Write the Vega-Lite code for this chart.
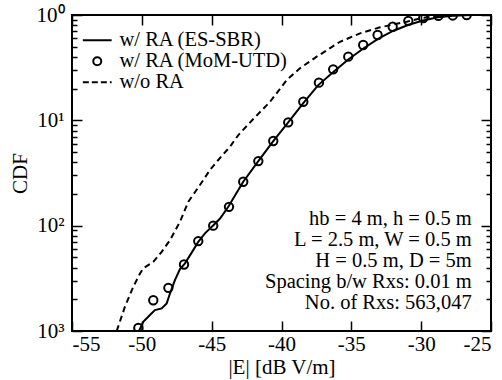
{
  "$schema": "https://vega.github.io/schema/vega-lite/v6.json",
  "width": 419,
  "height": 316,
  "autosize": {"type": "none"},
  "padding": {"left": 72, "top": 15, "right": 11, "bottom": 49},
  "config": {
    "font": "Liberation Serif",
    "view": {"stroke": "black", "strokeWidth": 2},
    "axis": {
      "domain": false,
      "grid": false,
      "tickColor": "black",
      "tickWidth": 1.5,
      "labelFont": "Liberation Serif",
      "labelFontSize": 21,
      "labelColor": "black",
      "titleFont": "Liberation Serif",
      "titleFontSize": 21,
      "titleFontWeight": "normal",
      "titleColor": "black"
    },
    "legend": {
      "orient": "top-left",
      "offset": 15,
      "padding": 0,
      "labelFont": "Liberation Serif",
      "labelFontSize": 20.5,
      "labelColor": "black",
      "labelLimit": 0,
      "labelOffset": 12,
      "symbolStrokeColor": "black",
      "symbolFillColor": "transparent",
      "symbolStrokeWidth": 2,
      "symbolSize": 64,
      "rowPadding": -3.5
    }
  },
  "datasets": {
    "curves": [
      {"series": "w/ RA (ES-SBR)", "e": -50.2, "cdf": 0.001},
      {"series": "w/ RA (ES-SBR)", "e": -49.9, "cdf": 0.00122},
      {"series": "w/ RA (ES-SBR)", "e": -49.42, "cdf": 0.00142},
      {"series": "w/ RA (ES-SBR)", "e": -49.06, "cdf": 0.00158},
      {"series": "w/ RA (ES-SBR)", "e": -48.58, "cdf": 0.00164},
      {"series": "w/ RA (ES-SBR)", "e": -48.22, "cdf": 0.00183},
      {"series": "w/ RA (ES-SBR)", "e": -47.98, "cdf": 0.00228},
      {"series": "w/ RA (ES-SBR)", "e": -47.63, "cdf": 0.00304},
      {"series": "w/ RA (ES-SBR)", "e": -47.27, "cdf": 0.00387},
      {"series": "w/ RA (ES-SBR)", "e": -46.91, "cdf": 0.00439},
      {"series": "w/ RA (ES-SBR)", "e": -46.32, "cdf": 0.00586},
      {"series": "w/ RA (ES-SBR)", "e": -45.96, "cdf": 0.00703},
      {"series": "w/ RA (ES-SBR)", "e": -45.48, "cdf": 0.00845},
      {"series": "w/ RA (ES-SBR)", "e": -44.88, "cdf": 0.0101},
      {"series": "w/ RA (ES-SBR)", "e": -44.4, "cdf": 0.0117},
      {"series": "w/ RA (ES-SBR)", "e": -43.81, "cdf": 0.0151},
      {"series": "w/ RA (ES-SBR)", "e": -42.74, "cdf": 0.0261},
      {"series": "w/ RA (ES-SBR)", "e": -41.66, "cdf": 0.041},
      {"series": "w/ RA (ES-SBR)", "e": -40.59, "cdf": 0.0636},
      {"series": "w/ RA (ES-SBR)", "e": -39.52, "cdf": 0.0957},
      {"series": "w/ RA (ES-SBR)", "e": -38.44, "cdf": 0.146},
      {"series": "w/ RA (ES-SBR)", "e": -37.37, "cdf": 0.216},
      {"series": "w/ RA (ES-SBR)", "e": -36.29, "cdf": 0.287},
      {"series": "w/ RA (ES-SBR)", "e": -35.22, "cdf": 0.378},
      {"series": "w/ RA (ES-SBR)", "e": -34.14, "cdf": 0.481},
      {"series": "w/ RA (ES-SBR)", "e": -33.09, "cdf": 0.592},
      {"series": "w/ RA (ES-SBR)", "e": -32.02, "cdf": 0.705},
      {"series": "w/ RA (ES-SBR)", "e": -30.94, "cdf": 0.804},
      {"series": "w/ RA (ES-SBR)", "e": -29.87, "cdf": 0.887},
      {"series": "w/ RA (ES-SBR)", "e": -28.79, "cdf": 0.951},
      {"series": "w/ RA (ES-SBR)", "e": -27.72, "cdf": 0.985},
      {"series": "w/ RA (ES-SBR)", "e": -26.36, "cdf": 1.0},
      {"series": "w/ RA (MoM-UTD)", "e": -50.25, "cdf": 0.00107},
      {"series": "w/ RA (MoM-UTD)", "e": -49.18, "cdf": 0.00196},
      {"series": "w/ RA (MoM-UTD)", "e": -48.1, "cdf": 0.00257},
      {"series": "w/ RA (MoM-UTD)", "e": -46.98, "cdf": 0.00428},
      {"series": "w/ RA (MoM-UTD)", "e": -45.96, "cdf": 0.00714},
      {"series": "w/ RA (MoM-UTD)", "e": -44.89, "cdf": 0.01},
      {"series": "w/ RA (MoM-UTD)", "e": -43.76, "cdf": 0.0151},
      {"series": "w/ RA (MoM-UTD)", "e": -42.74, "cdf": 0.0261},
      {"series": "w/ RA (MoM-UTD)", "e": -41.66, "cdf": 0.041},
      {"series": "w/ RA (MoM-UTD)", "e": -40.59, "cdf": 0.0636},
      {"series": "w/ RA (MoM-UTD)", "e": -39.52, "cdf": 0.0957},
      {"series": "w/ RA (MoM-UTD)", "e": -38.44, "cdf": 0.15},
      {"series": "w/ RA (MoM-UTD)", "e": -37.32, "cdf": 0.228},
      {"series": "w/ RA (MoM-UTD)", "e": -36.3, "cdf": 0.305},
      {"series": "w/ RA (MoM-UTD)", "e": -35.22, "cdf": 0.402},
      {"series": "w/ RA (MoM-UTD)", "e": -34.15, "cdf": 0.519},
      {"series": "w/ RA (MoM-UTD)", "e": -33.12, "cdf": 0.646},
      {"series": "w/ RA (MoM-UTD)", "e": -32.04, "cdf": 0.774},
      {"series": "w/ RA (MoM-UTD)", "e": -30.92, "cdf": 0.88},
      {"series": "w/ RA (MoM-UTD)", "e": -29.85, "cdf": 0.935},
      {"series": "w/ RA (MoM-UTD)", "e": -28.77, "cdf": 0.98},
      {"series": "w/ RA (MoM-UTD)", "e": -27.74, "cdf": 0.99},
      {"series": "w/ RA (MoM-UTD)", "e": -26.74, "cdf": 1.0},
      {"series": "w/o RA", "e": -51.8, "cdf": 0.001},
      {"series": "w/o RA", "e": -51.21, "cdf": 0.0017},
      {"series": "w/o RA", "e": -50.61, "cdf": 0.00263},
      {"series": "w/o RA", "e": -50.13, "cdf": 0.00352},
      {"series": "w/o RA", "e": -49.9, "cdf": 0.00393},
      {"series": "w/o RA", "e": -49.18, "cdf": 0.00454},
      {"series": "w/o RA", "e": -48.58, "cdf": 0.00565},
      {"series": "w/o RA", "e": -47.98, "cdf": 0.0073},
      {"series": "w/o RA", "e": -47.27, "cdf": 0.0109},
      {"series": "w/o RA", "e": -46.67, "cdf": 0.0169},
      {"series": "w/o RA", "e": -45.84, "cdf": 0.0243},
      {"series": "w/o RA", "e": -45.12, "cdf": 0.0338},
      {"series": "w/o RA", "e": -44.53, "cdf": 0.042},
      {"series": "w/o RA", "e": -43.69, "cdf": 0.0561},
      {"series": "w/o RA", "e": -43.09, "cdf": 0.0725},
      {"series": "w/o RA", "e": -42.02, "cdf": 0.103},
      {"series": "w/o RA", "e": -40.82, "cdf": 0.15},
      {"series": "w/o RA", "e": -39.63, "cdf": 0.241},
      {"series": "w/o RA", "e": -38.68, "cdf": 0.312},
      {"series": "w/o RA", "e": -37.48, "cdf": 0.402},
      {"series": "w/o RA", "e": -35.81, "cdf": 0.557},
      {"series": "w/o RA", "e": -34.38, "cdf": 0.67},
      {"series": "w/o RA", "e": -32.95, "cdf": 0.764},
      {"series": "w/o RA", "e": -31.04, "cdf": 0.863},
      {"series": "w/o RA", "e": -30.08, "cdf": 0.93},
      {"series": "w/o RA", "e": -28.89, "cdf": 0.978},
      {"series": "w/o RA", "e": -27.46, "cdf": 1.0}
    ],
    "note": [{"label": "parameters"}]
  },
  "layer": [
    {
      "data": {"name": "curves"},
      "transform": [{"filter": "datum.series == 'w/ RA (ES-SBR)'"}],
      "mark": {"type": "line", "color": "black", "strokeWidth": 2, "clip": true},
      "encoding": {
        "x": {
          "field": "e", "type": "quantitative",
          "scale": {"domain": [-55, -25], "nice": false, "zero": false},
          "axis": {
            "orient": "bottom",
            "values": [-55, -50, -45, -40, -35, -30, -25],
            "tickSize": -10,
            "labelPadding": 12,
            "labelExpr": "'' + datum.value",
            "title": "|E| [dB V/m]",
            "titlePadding": 2
          }
        },
        "y": {
          "field": "cdf", "type": "quantitative",
          "scale": {"type": "log", "domain": [0.001, 1], "nice": false},
          "axis": {
            "orient": "left",
            "values": [0.001, 0.002, 0.003, 0.004, 0.005, 0.006, 0.007, 0.008, 0.009, 0.01, 0.02, 0.03, 0.04, 0.05, 0.06, 0.07, 0.08, 0.09, 0.1, 0.2, 0.3, 0.4, 0.5, 0.6, 0.7, 0.8, 0.9, 1],
            "tickSize": {"condition": {"test": "indexof([1, 0.1, 0.01, 0.001], datum.value) >= 0", "value": -10}, "value": -5},
            "labelPadding": 18,
            "labelExpr": "datum.value == 1 ? '10⁰' : datum.value == 0.1 ? '10¹' : datum.value == 0.01 ? '10²' : datum.value == 0.001 ? '10³' : ''",
            "title": "CDF",
            "titlePadding": 6
          }
        }
      }
    },
    {
      "data": {"name": "curves"},
      "transform": [{"filter": "datum.series == 'w/o RA'"}],
      "mark": {"type": "line", "color": "black", "strokeWidth": 2, "strokeDash": [6, 4], "clip": true},
      "encoding": {
        "x": {
          "field": "e", "type": "quantitative",
          "scale": {"domain": [-55, -25], "nice": false, "zero": false},
          "axis": {
            "orient": "top",
            "values": [-55, -50, -45, -40, -35, -30, -25],
            "tickSize": -10,
            "labels": false,
            "title": null
          }
        },
        "y": {
          "field": "cdf", "type": "quantitative",
          "scale": {"type": "log", "domain": [0.001, 1], "nice": false},
          "axis": {
            "orient": "right",
            "values": [0.001, 0.002, 0.003, 0.004, 0.005, 0.006, 0.007, 0.008, 0.009, 0.01, 0.02, 0.03, 0.04, 0.05, 0.06, 0.07, 0.08, 0.09, 0.1, 0.2, 0.3, 0.4, 0.5, 0.6, 0.7, 0.8, 0.9, 1],
            "tickSize": {"condition": {"test": "indexof([1, 0.1, 0.01, 0.001], datum.value) >= 0", "value": -10}, "value": -5},
            "labels": false,
            "title": null
          }
        }
      }
    },
    {
      "data": {"name": "curves"},
      "transform": [{"filter": "datum.series == 'w/ RA (MoM-UTD)'"}],
      "mark": {"type": "point", "filled": false, "size": 70, "strokeWidth": 2, "color": "black", "opacity": 1, "clip": true},
      "encoding": {
        "x": {"field": "e", "type": "quantitative", "scale": {"domain": [-55, -25], "nice": false, "zero": false}, "axis": null},
        "y": {"field": "cdf", "type": "quantitative", "scale": {"type": "log", "domain": [0.001, 1], "nice": false}, "axis": null},
        "shape": {
          "field": "series", "type": "nominal",
          "scale": {
            "domain": ["w/ RA (ES-SBR)", "w/ RA (MoM-UTD)", "w/o RA"],
            "range": ["M-3.6,0H3.6", "circle", "M-3.6,0H-2.1M-1.35,0H0.15M0.9,0H2.4M3.15,0H3.6"]
          },
          "legend": {"title": null}
        }
      }
    },
    {
      "data": {"name": "note"},
      "mark": {
        "type": "text",
        "align": "right",
        "baseline": "alphabetic",
        "font": "Liberation Serif",
        "fontSize": 20.5,
        "lineHeight": 21,
        "color": "black",
        "text": ["hb = 4 m, h = 0.5 m", "L = 2.5 m, W = 0.5 m", "H = 0.5 m, D = 5m", "Spacing b/w Rxs: 0.01 m", "No. of Rxs: 563,047"]
      },
      "encoding": {
        "x": {"datum": -26.38, "type": "quantitative", "scale": {"domain": [-55, -25], "nice": false, "zero": false}, "axis": null},
        "y": {"datum": 0.0101, "type": "quantitative", "scale": {"type": "log", "domain": [0.001, 1], "nice": false}, "axis": null}
      }
    }
  ],
  "resolve": {"axis": {"x": "independent", "y": "independent"}}
}
